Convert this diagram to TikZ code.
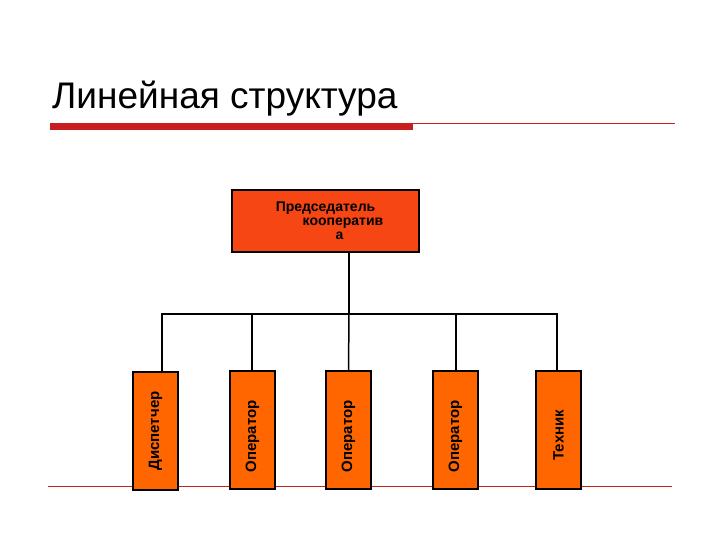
\documentclass[tikz,border=0pt]{standalone}
\usepackage{fontspec}
\setmainfont{Liberation Sans}
\definecolor{topc}{RGB}{245,70,20}
\definecolor{botc}{RGB}{255,102,0}
\definecolor{redl}{RGB}{200,30,30}
\begin{document}
\begin{tikzpicture}[x=1pt,y=-1pt,
  topbox/.style={draw=black,line width=1.5pt,fill=topc,minimum width=187pt,minimum height=62pt,inner sep=0pt,align=center,font=\bfseries\fontsize{14}{14}\selectfont},
  botbox/.style={draw=black,line width=1.5pt,fill=botc,minimum width=45pt,minimum height=118pt,inner sep=0pt,font=\bfseries\fontsize{15}{15}\selectfont},
  conn/.style={line width=1.5pt,black}]
\useasboundingbox (0,0) rectangle (720,540);
\node[anchor=base west,font=\fontsize{37}{37}\selectfont,inner sep=0pt] (title) at (52,109) {Линейная структура};
\draw[redl,line width=0.6pt] (50,123) -- (675,123);
\fill[redl] (50,123) rectangle (413,130);
\draw[redl,line width=0.6pt] (48,486) -- (672,486);
\node[topbox] (top) at (325.5,221) {Председатель\\\hspace*{2.5em}кооператив\\\hspace*{2em}а};
\node[botbox] (b1) at (155.5,431) {};
\node[rotate=90,font=\bfseries\fontsize{15}{15}\selectfont] at (b1.center) {Диспетчер};
\node[botbox] (b2) at (252.5,430) {};
\node[rotate=90,font=\bfseries\fontsize{15}{15}\selectfont,anchor=west] at (252.5,476) {Оператор};
\node[botbox] (b3) at (348.5,430) {};
\node[rotate=90,font=\bfseries\fontsize{15}{15}\selectfont,anchor=west] at (348.5,476) {Оператор};
\node[botbox] (b4) at (455.5,430) {};
\node[rotate=90,font=\bfseries\fontsize{15}{15}\selectfont,anchor=west] at (455.5,476) {Оператор};
\node[botbox] (b5) at (558.5,430) {};
\node[rotate=90,font=\bfseries\fontsize{15}{15}\selectfont,anchor=west] at (558.5,464) {Техник};
\coordinate (bus) at (349,314);
\draw[conn] (top.south -| bus) -- (bus);
\draw[conn] (b1.north -| 162,0) -- (162,314) -- (557,314) -- (b5.north -| 557,0);
\draw[conn] (252,314) -- (b2.north -| 252,0);
\draw[conn] (349,314) -- (b3.north);
\draw[conn] (456,314) -- (b4.north -| 456,0);
\end{tikzpicture}
\end{document}
